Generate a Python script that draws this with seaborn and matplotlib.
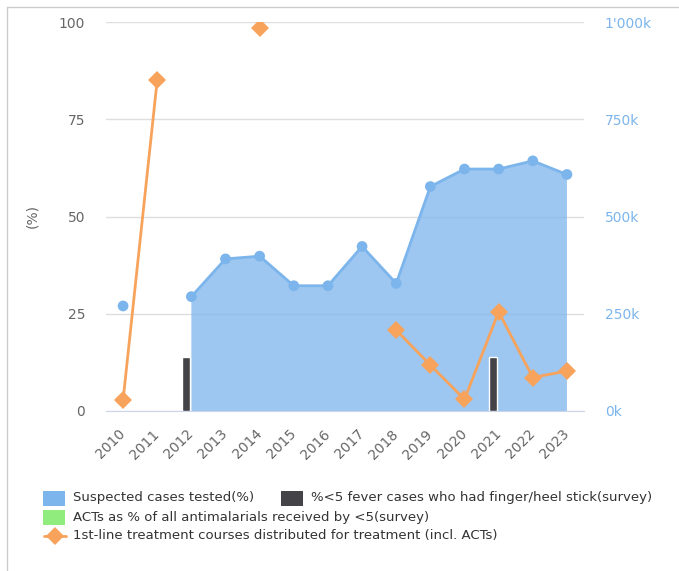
import numpy as np
import matplotlib
matplotlib.use("Agg")
import matplotlib.pyplot as plt
from matplotlib.patches import Rectangle
from matplotlib.lines import Line2D
import seaborn as sns

nan = np.nan

# categories and series
years = ['2010', '2011', '2012', '2013', '2014', '2015', '2016',
         '2017', '2018', '2019', '2020', '2021', '2022', '2023']
tested_pct = [27.0, nan, 29.4, 39.1, 39.8, 32.2, 32.2,
              42.3, 32.8, 57.7, 62.2, 62.2, 64.3, 60.8]
finger_stick_pct = [nan, nan, 14.0, nan, nan, nan, nan,
                    nan, nan, nan, nan, 13.9, nan, nan]
acts_pct = [nan] * 14
courses_k = [28, 851, nan, nan, 984, nan, nan,
             nan, 208, 118, 30, 255, 86, 103]

left_ticks = [0, 25, 50, 75, 100]
right_ticks = [0, 250, 500, 750, 1000]
right_labels = ['0k', '250k', '500k', '750k', "1'000k"]

legend_labels = ['Suspected cases tested(%)',
                 '%<5 fever cases who had finger/heel stick(survey)',
                 'ACTs as % of all antimalarials received by <5(survey)',
                 '1st-line treatment courses distributed for treatment (incl. ACTs)']

blue = '#7cb5ec'
dark = '#434348'
green = '#90ed7d'
orange = '#f7a35c'
grey_txt = '#666666'

sns.set_style("white")
plt.rcParams['font.family'] = ['DejaVu Sans']

W, H = 679, 571
fig = plt.figure(figsize=(W / 100, H / 100), dpi=100)
ax = fig.add_axes([106 / W, 1 - 411 / H, 478 / W, 389 / H])

x = np.arange(len(years))
tested = np.array(tested_pct, dtype=float)

# area series
ax.fill_between(x, tested, 0, where=~np.isnan(tested), color=blue,
                alpha=0.75, linewidth=0, zorder=2)
ax.plot(x, tested, color=blue, lw=2, zorder=3)
sns.scatterplot(x=x, y=tested, color=blue, s=60, edgecolor='none',
                ax=ax, zorder=4, legend=False)

# column series
ax.bar(x - 0.155, finger_stick_pct, width=0.24, color=dark,
       edgecolor='white', linewidth=1, zorder=5)

ax.set_xlim(-0.5, len(years) - 0.5)
ax.set_ylim(0, 100)
ax.set_yticks(left_ticks)
ax.yaxis.grid(True, color='#dedede', lw=1, zorder=0)
ax.set_axisbelow(True)
ax.tick_params(axis='y', length=0, pad=15, labelsize=10, labelcolor=grey_txt)
ax.set_ylabel('(%)', color=grey_txt, fontsize=10, labelpad=14)

ax.set_xticks(x)
ax.set_xticklabels(years, rotation=45, ha='right', va='center',
                   rotation_mode='anchor', fontsize=10, color=grey_txt)
ax.set_xticks(np.arange(-0.5, len(years)), minor=True)
ax.tick_params(axis='x', which='major', length=0, pad=15)
ax.tick_params(axis='x', which='minor', length=8, width=1, color='#ccd6eb')
for s in ['top', 'left', 'right']:
    ax.spines[s].set_visible(False)
ax.spines['bottom'].set_color('#ccd6eb')

# right axis
ax2 = ax.twinx()
ax2.set_ylim(0, 1000)
ax2.plot(x, courses_k, color=orange, lw=2, zorder=6)
ax2.plot(x, courses_k, linestyle='none', marker='D', markersize=9.5,
         color=orange, markeredgewidth=0, zorder=7)
ax2.set_yticks(right_ticks)
ax2.set_yticklabels(right_labels)
ax2.tick_params(axis='y', length=0, pad=15, labelsize=10, labelcolor=blue)
for s in ['top', 'left', 'right', 'bottom']:
    ax2.spines[s].set_visible(False)
ax2.grid(False)

# outer frame (top and left edges visible)
fig.add_artist(Line2D([7 / W, 1], [1 - 7 / H] * 2, transform=fig.transFigure,
                      color='#cccccc', lw=1))
fig.add_artist(Line2D([7 / W] * 2, [1 - 7 / H, 0], transform=fig.transFigure,
                      color='#cccccc', lw=1))

# legend
def fx(px):
    return px / W

def fy(py):
    return 1 - py / H

def legend_box(x0, yc, color):
    fig.add_artist(Rectangle((fx(x0), fy(yc + 7.5)), 22 / W, 15 / H,
                             transform=fig.transFigure, color=color, lw=0))

def legend_text(x0, yc, txt):
    fig.text(fx(x0), fy(yc), txt, ha='left', va='center', fontsize=9.5,
             color='#333333')

rows = [498, 517, 536]
legend_box(43, rows[0], blue)
legend_text(73, rows[0], legend_labels[0])
legend_box(281, rows[0], dark)
legend_text(311, rows[0], legend_labels[1])
legend_box(43, rows[1], green)
legend_text(73, rows[1], legend_labels[2])
fig.add_artist(Line2D([fx(44), fx(66)], [fy(rows[2])] * 2,
                      transform=fig.transFigure, color=orange, lw=2))
fig.add_artist(Line2D([fx(55)], [fy(rows[2])], transform=fig.transFigure,
                      marker='D', markersize=9.5, color=orange,
                      markeredgewidth=0))
legend_text(73, rows[2], legend_labels[3])

fig.savefig('out.png', dpi=100)
